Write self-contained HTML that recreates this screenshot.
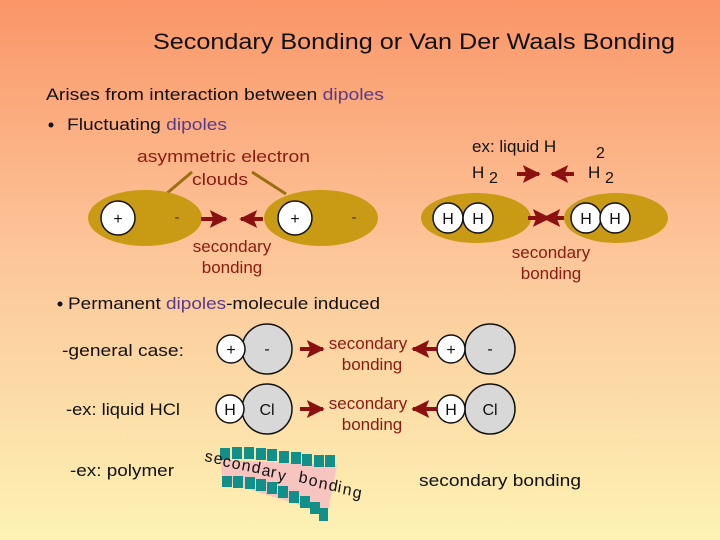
<!DOCTYPE html>
<html><head><meta charset="utf-8"><style>
html,body{margin:0;padding:0;width:720px;height:540px;overflow:hidden}
svg{display:block}
text{font-family:"Liberation Sans",sans-serif}
</style></head><body>
<svg width="720" height="540" viewBox="0 0 720 540" xmlns="http://www.w3.org/2000/svg">
<defs>
<linearGradient id="bg" x1="0" y1="0" x2="0" y2="1">
<stop offset="0" stop-color="#fa9668"/>
<stop offset="0.45" stop-color="#fcc498"/>
<stop offset="1" stop-color="#fdf2b4"/>
</linearGradient>
<marker id="ah" viewBox="0 0 10 10" refX="9" refY="5" markerWidth="4.5" markerHeight="4.5" orient="auto" markerUnits="strokeWidth">
<path d="M0,0 L10,5 L0,10 L2,5 z" fill="#8b1010"/>
</marker>
</defs>
<rect width="720" height="540" fill="url(#bg)"/>

<text x="153" y="49" font-size="22" fill="#111" textLength="522" lengthAdjust="spacingAndGlyphs">Secondary Bonding or Van Der Waals Bonding</text>
<text x="46" y="100" font-size="17" fill="#111" textLength="338" lengthAdjust="spacingAndGlyphs">Arises from interaction between <tspan fill="#5a3a8a">dipoles</tspan></text>
<circle cx="51" cy="125" r="2.5" fill="#111"/>
<text x="67" y="130" font-size="17" fill="#111" textLength="160" lengthAdjust="spacingAndGlyphs">Fluctuating <tspan fill="#5a3a8a">dipoles</tspan></text>

<text x="137" y="162" font-size="17" fill="#8b1a10" textLength="173" lengthAdjust="spacingAndGlyphs">asymmetric electron</text>
<text x="192" y="185" font-size="17" fill="#8b1a10" textLength="56" lengthAdjust="spacingAndGlyphs">clouds</text>
<line x1="192" y1="172" x2="166" y2="194" stroke="#9a7010" stroke-width="3"/>
<line x1="252" y1="172" x2="286" y2="194" stroke="#9a7010" stroke-width="3"/>

<ellipse cx="145" cy="218" rx="57" ry="28" fill="#c99a14"/>
<circle cx="118" cy="218" r="17" fill="#fff" stroke="#111" stroke-width="1.5"/>
<text x="118" y="224" font-size="16" text-anchor="middle" fill="#111">+</text>
<text x="177" y="222" font-size="15" text-anchor="middle" fill="#333">-</text>
<ellipse cx="321" cy="218" rx="57" ry="28" fill="#c99a14"/>
<circle cx="295" cy="218" r="17" fill="#fff" stroke="#111" stroke-width="1.5"/>
<text x="295" y="224" font-size="16" text-anchor="middle" fill="#111">+</text>
<text x="354" y="222" font-size="15" text-anchor="middle" fill="#333">-</text>
<line x1="201" y1="219" x2="226" y2="219" stroke="#8b1010" stroke-width="4" marker-end="url(#ah)"/>
<line x1="263" y1="219" x2="241" y2="219" stroke="#8b1010" stroke-width="4" marker-end="url(#ah)"/>
<text x="232" y="252" font-size="17" fill="#8b1a10" text-anchor="middle">secondary</text>
<text x="232" y="273" font-size="17" fill="#8b1a10" text-anchor="middle">bonding</text>

<text x="472" y="152" font-size="17" fill="#111">ex:  liquid H</text>
<text x="596" y="158" font-size="16" fill="#111">2</text>
<text x="472" y="178" font-size="17" fill="#111">H</text>
<text x="489" y="183" font-size="16" fill="#111">2</text>
<text x="588" y="178" font-size="17" fill="#111">H</text>
<text x="605" y="183" font-size="16" fill="#111">2</text>
<line x1="517" y1="174" x2="539" y2="174" stroke="#8b1010" stroke-width="4" marker-end="url(#ah)"/>
<line x1="574" y1="174" x2="552" y2="174" stroke="#8b1010" stroke-width="4" marker-end="url(#ah)"/>

<ellipse cx="476" cy="218" rx="55" ry="25" fill="#c99a14"/>
<ellipse cx="616" cy="218" rx="52" ry="25" fill="#c99a14"/>
<line x1="528" y1="218" x2="549" y2="218" stroke="#8b1010" stroke-width="4" marker-end="url(#ah)"/>
<line x1="564" y1="218" x2="544" y2="218" stroke="#8b1010" stroke-width="4" marker-end="url(#ah)"/>
<g stroke="#111" stroke-width="1.5" fill="#fff">
<circle cx="448" cy="218" r="15"/><circle cx="478" cy="218" r="15"/>
<circle cx="586" cy="218" r="15"/><circle cx="615" cy="218" r="15"/>
</g>
<g font-size="16" fill="#111" text-anchor="middle">
<text x="448" y="224">H</text><text x="478" y="224">H</text>
<text x="586" y="224">H</text><text x="615" y="224">H</text>
</g>
<text x="551" y="258" font-size="17" fill="#8b1a10" text-anchor="middle">secondary</text>
<text x="551" y="279" font-size="17" fill="#8b1a10" text-anchor="middle">bonding</text>

<circle cx="60" cy="304" r="2.5" fill="#111"/>
<text x="68" y="309" font-size="17" fill="#111" textLength="312" lengthAdjust="spacingAndGlyphs">Permanent <tspan fill="#5a3a8a">dipoles</tspan>-molecule induced</text>

<text x="62" y="356" font-size="17" fill="#111" textLength="122" lengthAdjust="spacingAndGlyphs">-general case:</text>
<text x="66" y="415" font-size="17" fill="#111" textLength="114" lengthAdjust="spacingAndGlyphs">-ex: liquid HCl</text>
<text x="70" y="476" font-size="17" fill="#111" textLength="104" lengthAdjust="spacingAndGlyphs">-ex: polymer</text>

<g stroke="#111" stroke-width="1.5">
<circle cx="267" cy="349" r="25" fill="#d8d8d8"/><circle cx="231" cy="349" r="14" fill="#fff"/>
<circle cx="490" cy="349" r="25" fill="#d8d8d8"/><circle cx="451" cy="349" r="14" fill="#fff"/>
<circle cx="267" cy="409" r="25" fill="#d8d8d8"/><circle cx="230" cy="409" r="14" fill="#fff"/>
<circle cx="490" cy="409" r="25" fill="#d8d8d8"/><circle cx="451" cy="409" r="14" fill="#fff"/>
</g>
<g font-size="16" fill="#111" text-anchor="middle">
<text x="231" y="355">+</text><text x="267" y="354">-</text>
<text x="451" y="355">+</text><text x="490" y="354">-</text>
<text x="230" y="415">H</text><text x="267" y="415">Cl</text>
<text x="451" y="415">H</text><text x="490" y="415">Cl</text>
</g>
<line x1="300" y1="349" x2="323" y2="349" stroke="#8b1010" stroke-width="4" marker-end="url(#ah)"/>
<line x1="437" y1="349" x2="413" y2="349" stroke="#8b1010" stroke-width="4" marker-end="url(#ah)"/>
<line x1="300" y1="409" x2="323" y2="409" stroke="#8b1010" stroke-width="4" marker-end="url(#ah)"/>
<line x1="437" y1="409" x2="413" y2="409" stroke="#8b1010" stroke-width="4" marker-end="url(#ah)"/>
<g font-size="17" fill="#8b1a10" text-anchor="middle">
<text x="368" y="349">secondary</text><text x="372" y="370">bonding</text>
<text x="368" y="409">secondary</text><text x="372" y="430">bonding</text>
</g>

<polygon points="221,460 337,465 327,516 300,505 222,481" fill="#f8c4c0"/>
<g fill="#138f8a">
<rect x="220" y="448" width="10" height="12"/><rect x="232" y="447" width="10" height="12"/>
<rect x="244" y="447" width="10" height="12"/><rect x="256" y="448" width="10" height="12"/>
<rect x="267" y="449" width="10" height="12"/><rect x="279" y="451" width="10" height="12"/>
<rect x="291" y="452" width="10" height="12"/><rect x="302" y="454" width="10" height="12"/>
<rect x="314" y="455" width="10" height="12"/><rect x="325" y="455" width="10" height="12"/>
<rect x="222" y="476" width="10" height="11"/><rect x="233" y="476" width="10" height="12"/>
<rect x="245" y="477" width="10" height="12"/><rect x="256" y="479" width="10" height="12"/>
<rect x="267" y="482" width="10" height="12"/><rect x="278" y="486" width="10" height="12"/>
<rect x="289" y="491" width="10" height="12"/><rect x="300" y="496" width="10" height="12"/>
<rect x="310" y="502" width="10" height="12"/><rect x="319" y="508" width="9" height="13"/>
</g>
<text font-size="16" fill="#111" x="204 213 222 231 241 251 261 270 277 298 308 318 328 337 342 352" y="461 463 466 468 470 472 475 477 480 482 485 488 490 492 494 497" rotate="10">secondarybonding</text>

<text x="419" y="486" font-size="17" fill="#111" textLength="162" lengthAdjust="spacingAndGlyphs">secondary bonding</text>
</svg>
</body></html>
